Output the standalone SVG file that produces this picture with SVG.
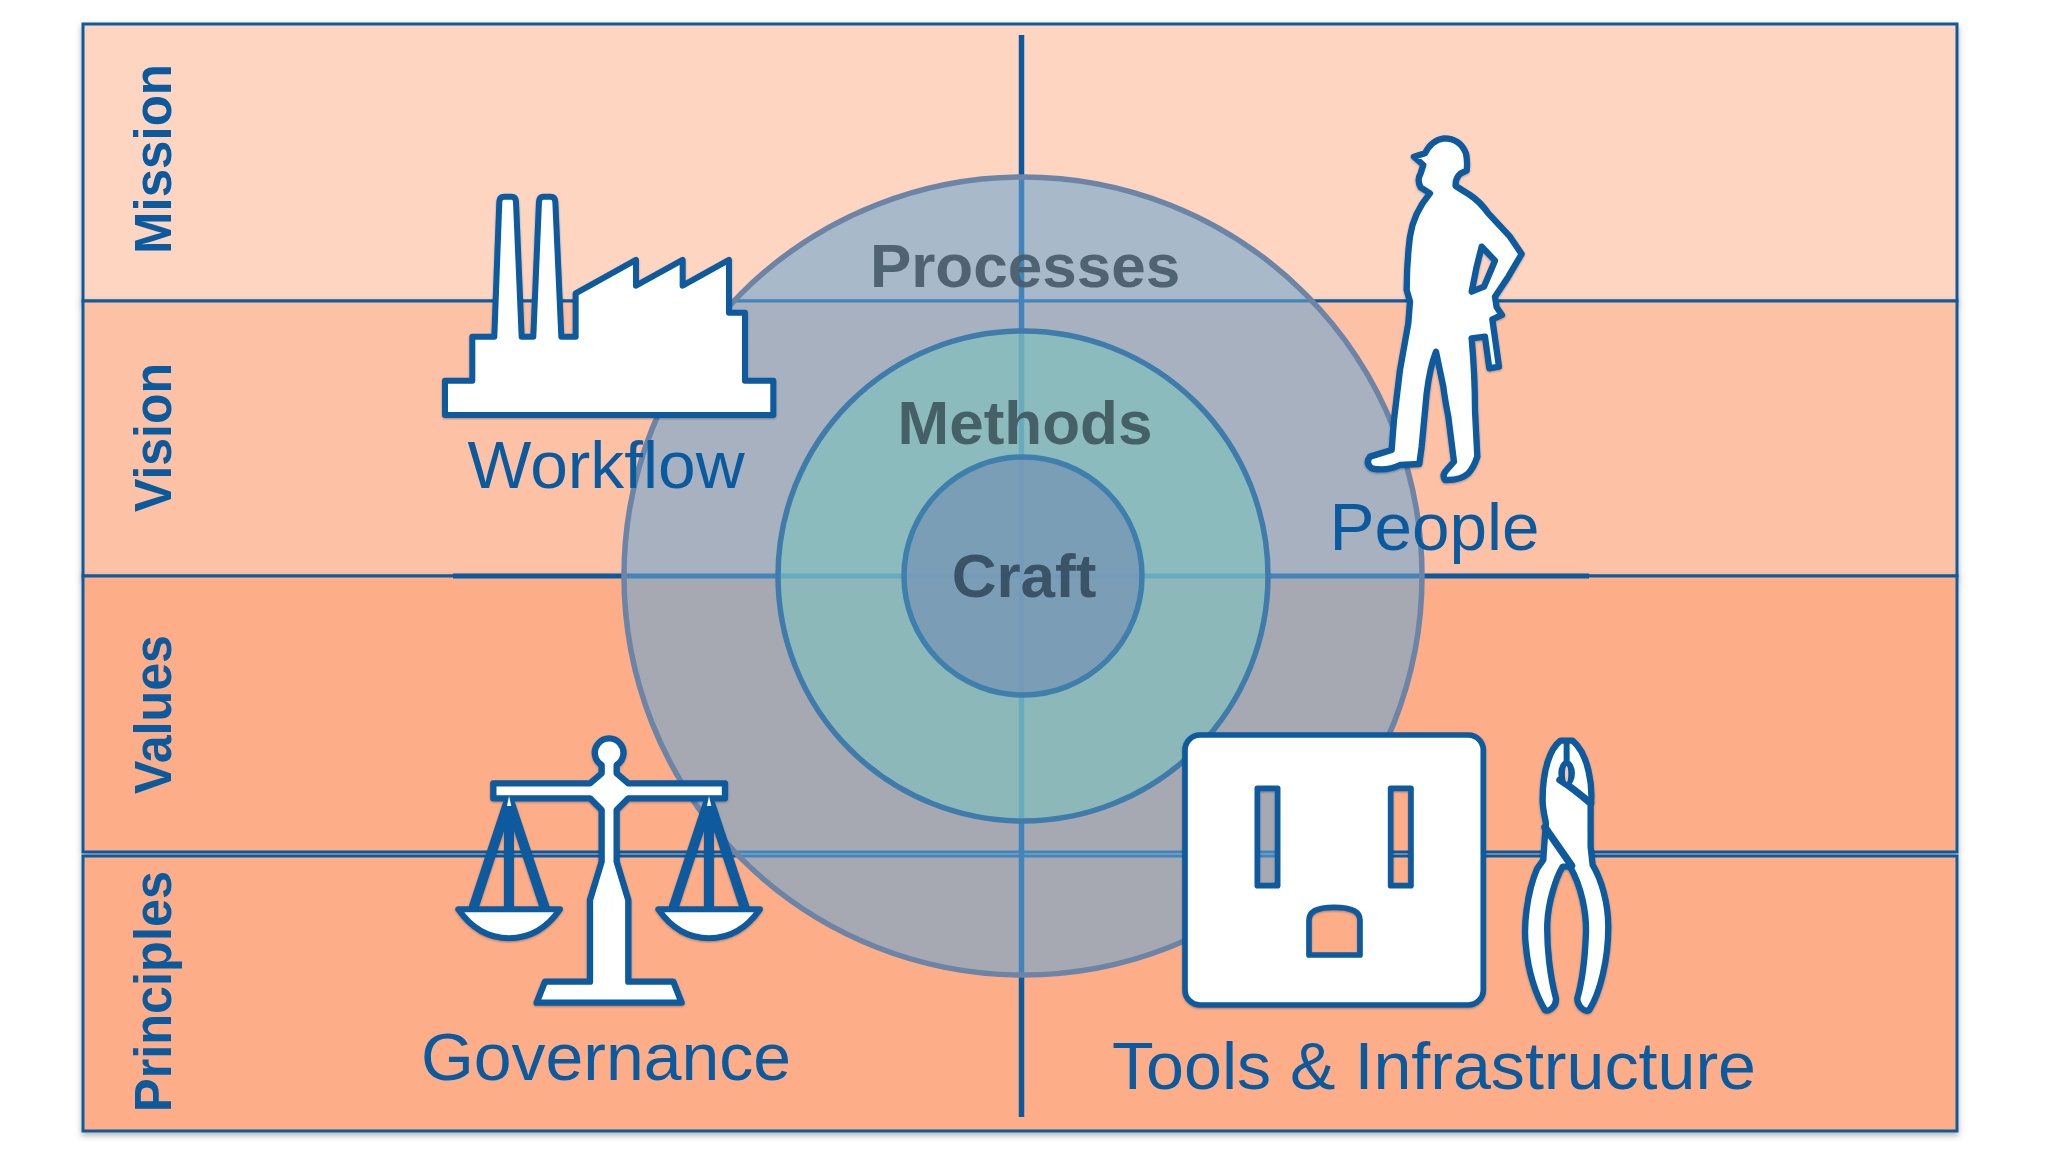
<svg xmlns="http://www.w3.org/2000/svg" width="2048" height="1152" viewBox="0 0 2048 1152">
<defs>
<filter id="sh" x="-20%" y="-20%" width="140%" height="140%"><feDropShadow dx="0" dy="3" stdDeviation="3" flood-color="#000" flood-opacity="0.3"/></filter>
</defs>
<style>
.band{stroke:#0f5a9c;stroke-width:3;filter:url(#sh)}
.ln{stroke:#0a5a9f;fill:none}
.ic{fill:#fff;stroke:#0a5a9f;stroke-linejoin:round;stroke-linecap:round;fill-rule:evenodd}
.side{font:bold 51px "Liberation Sans",Arial,sans-serif;fill:#0a5a9f}
.lab{font:66px "Liberation Sans",Arial,sans-serif;fill:#0a5a9f;text-anchor:middle}
.core{font:bold 62px "Liberation Sans",Arial,sans-serif;text-anchor:middle;fill-opacity:.9}
</style>
<rect width="2048" height="1152" fill="#fff"/>
<g id="bands">
<rect id="band-mission" class="band" x="83" y="24" width="1874" height="277" fill="#fed5c1"/>
<rect id="band-vision" class="band" x="83" y="301" width="1874" height="275" fill="#fdc1a6"/>
<rect id="band-values" class="band" x="83" y="576" width="1874" height="276" fill="#fdae88"/>
<rect id="band-principles" class="band" x="83" y="856" width="1874" height="275" fill="#fdae88"/>
</g>
<g id="connectors">
<line class="ln" x1="1021.5" y1="35" x2="1021.5" y2="1117" stroke-width="5.5"/>
<line class="ln" x1="453" y1="576" x2="1589" y2="576" stroke-width="5"/>
</g>
<g id="circles">
<circle id="processes" cx="1023" cy="576" r="399" fill="#69a6d1" fill-opacity=".58" stroke="#6c85a6" stroke-width="5.5"/>
<circle id="methods" cx="1023" cy="576" r="245" fill="#7ec0bd" fill-opacity=".65" stroke="#3f7cab" stroke-width="5.5"/>
<circle id="craft" cx="1023" cy="576" r="119" fill="#7797b5" fill-opacity=".8" stroke="#3f7fae" stroke-width="5.5"/>
<text class="core" x="1025" y="287" fill="#465a69">Processes</text>
<text class="core" x="1025" y="444" fill="#3e565e">Methods</text>
<text class="core" x="1024" y="597" fill="#344a5e">Craft</text>
</g>
<g id="side-labels">
<text class="side" transform="translate(171 254) rotate(-90)" textLength="190" lengthAdjust="spacingAndGlyphs">Mission</text>
<text class="side" transform="translate(171 512) rotate(-90)" textLength="149" lengthAdjust="spacingAndGlyphs">Vision</text>
<text class="side" transform="translate(171 794) rotate(-90)" textLength="159" lengthAdjust="spacingAndGlyphs">Values</text>
<text class="side" transform="translate(171 1112) rotate(-90)" textLength="241" lengthAdjust="spacingAndGlyphs">Principles</text>
</g>
<g id="workflow">
<path class="ic" filter="url(#sh)" transform="translate(400 120) scale(.3333)" stroke-width="18" d="M135 885V782H217V650H283L298 245Q299 230 312 230H335Q347 230 348 245L365 650H400L417 245Q418 230 430 230H452Q465 230 466 245L484 650H527V520L708 420V497L848 420V497L987 420V578H1035V782H1120V885Z"/>
<text class="lab" x="606" y="488" textLength="277" lengthAdjust="spacingAndGlyphs">Workflow</text>
</g>
<g id="people">
<path class="ic" filter="url(#sh)" transform="translate(1300 110) scale(.3333)" stroke-width="19" d="M342 140L375 130Q395 90 432 85Q480 85 498 130Q503 155 500 182L482 190Q465 205 467 228L510 255Q540 275 565 310L630 380L665 432L625 500L585 560L590 592L606 615L577 628L597 770L568 775L555 680L515 685Q525 800 525 900L532 1040Q520 1075 505 1090Q480 1112 435 1110Q425 1095 440 1080L462 1055L445 920Q435 870 430 830L408 725Q390 770 380 850L365 1010L358 1062L300 1065Q260 1085 215 1075Q195 1060 210 1040L275 1020L282 930L300 780L325 640L330 575L320 540Q320 460 330 380Q340 310 390 250L362 232Q350 210 362 190L370 165ZM545 410L585 452L552 530L515 545L530 470Z"/>
<text class="lab" x="1434.5" y="550" textLength="210" lengthAdjust="spacingAndGlyphs">People</text>
</g>
<g id="governance">
<g transform="translate(430 720) scale(.3333)" filter="url(#sh)">
<g fill="none" stroke="#0a5a9f" stroke-width="30">
<path d="M237 240L130 565M237 240V565M237 240L345 565"/>
<path d="M837 240L730 565M837 240V565M837 240L945 565"/>
</g>
<path class="ic" stroke-width="18" d="M85 568H390Q330 655 237 655Q145 655 85 568Z"/>
<path class="ic" stroke-width="18" d="M685 568H990Q930 655 837 655Q745 655 685 568Z"/>
<path class="ic" stroke-width="19" d="M190 190H480L515 160V135A43 43 0 1 1 560 135V160L595 190H885V235H595L560 270V425L595 540V785H730L755 848H320L345 785H480V540L515 425V270L480 235H190Z"/>
<path d="M231 258H244L237 228Z" fill="#fff"/>
<path d="M831 258H844L837 228Z" fill="#fff"/>
</g>
<text class="lab" x="606" y="1080" textLength="370" lengthAdjust="spacingAndGlyphs">Governance</text>
</g>
<g id="tools">
<g transform="translate(1170 720) scale(.3333)" filter="url(#sh)">
<path class="ic" stroke-width="17" d="M90 45H895A45 45 0 0 1 940 90V810A45 45 0 0 1 895 855H90A45 45 0 0 1 45 810V90A45 45 0 0 1 90 45ZM262 205V497H323V205ZM662 205V497H723V205ZM417 705H570V600Q570 562 492 562Q417 562 417 600Z"/>
<path class="ic" stroke-width="19" d="M1172 62C1140 85 1118 150 1118 240C1118 270 1125 290 1128 310L1125 345L1120 420L1102 445C1070 520 1060 620 1068 680C1075 760 1100 830 1125 870C1135 878 1160 860 1158 835C1140 770 1130 680 1132 610C1135 540 1160 470 1178 440H1200C1235 500 1250 580 1248 640C1245 720 1235 790 1222 835C1222 860 1245 878 1258 870C1290 820 1315 720 1315 620C1315 550 1295 480 1268 435L1262 380V260C1270 200 1255 100 1208 62Z"/>
<path fill="none" stroke="#0a5a9f" stroke-width="22" stroke-linecap="round" d="M1125 322L1205 437M1170 180Q1210 205 1262 250"/>
<path fill="none" stroke="#0a5a9f" stroke-width="18" d="M1190 62V125"/>
<ellipse cx="1190" cy="160" rx="18" ry="32" fill="#0a5a9f" stroke="#0a5a9f" stroke-width="14"/>
<ellipse cx="1190" cy="162" rx="5" ry="24" fill="#fdc9ad"/>
</g>
<text class="lab" x="1434" y="1089" textLength="644" lengthAdjust="spacingAndGlyphs">Tools &amp; Infrastructure</text>
</g>
</svg>
